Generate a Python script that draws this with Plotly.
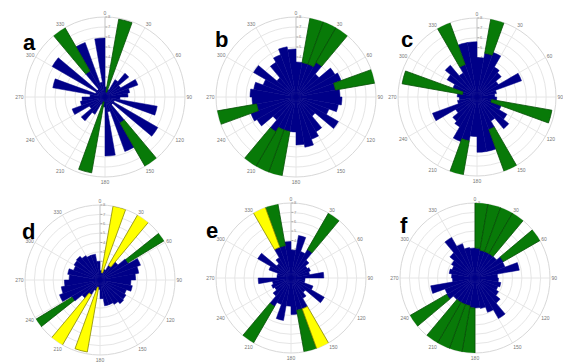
import plotly.graph_objects as go

W, H = 563, 362

# bin centres (10 degree bins, full circle; axial data)
theta_bins = [5, 15, 25, 35, 45, 55, 65, 75, 85, 95, 105, 115, 125, 135, 145, 155, 165, 175,
              185, 195, 205, 215, 225, 235, 245, 255, 265, 275, 285, 295, 305, 315, 325, 335, 345, 355]

a_blue = [1.0, 0.5, 0.8, 2.0, 3.1, 1.8, 3.5, 2.5, 2.3, 1.5, 5.3, 1.0, 6.1, 1.0, 3.0, 5.8, 1.5, 5.9,
          1.0, 0.5, 0.8, 2.0, 3.1, 1.8, 3.5, 2.5, 2.3, 1.5, 5.3, 1.0, 6.1, 1.0, 3.0, 5.8, 1.5, 5.9]
a_green_theta = [15, 145, 195, 325]
a_green = [7.4, 7.3, 7.2, 7.3]

b_blue = [3.5, 3.5, 3.5, 4.0, 3.0, 4.5, 4.8, 4.0, 4.4, 4.6, 4.3, 3.5, 4.9, 2.5, 4.0, 4.5, 5.1, 4.8,
          3.5, 3.5, 3.5, 4.0, 3.0, 4.5, 4.8, 4.0, 4.4, 4.6, 4.3, 3.5, 4.9, 2.5, 4.0, 4.5, 5.1, 4.8]
b_green_theta = [15, 25, 35, 75, 195, 205, 215, 255]
b_green = [6.4, 7.2, 6.3, 5.7, 6.2, 7.2, 6.3, 5.9]

c_blue = [4.0, 4.5, 4.8, 3.5, 3.2, 2.5, 4.8, 2.0, 1.8, 2.0, 1.5, 2.6, 3.5, 4.2, 2.8, 3.5, 5.6, 5.6,
          4.0, 4.5, 4.8, 3.5, 3.2, 2.5, 4.8, 2.0, 1.8, 2.0, 1.5, 2.6, 3.5, 4.2, 2.8, 3.5, 5.6, 5.6]
c_green_theta = [15, 105, 155, 195, 285, 335]
c_green = [6.8, 6.2, 7.4, 6.9, 6.2, 7.4]

d_blue = [1.0, 0.8, 1.2, 1.8, 2.5, 3.5, 4.6, 4.2, 3.8, 3.3, 3.5, 3.0, 3.2, 3.3, 3.0, 2.8, 2.8, 2.0,
          1.0, 0.8, 1.2, 1.8, 2.5, 3.5, 4.6, 4.2, 3.8, 3.3, 3.5, 3.0, 3.2, 3.3, 3.0, 2.8, 2.8, 2.0]
d_yellow_theta = [15, 35, 195, 215]
d_yellow = [7.2, 6.8, 7.0, 6.6]
d_green_theta = [55, 235]
d_green = [5.4, 5.2]

e_blue = [3.0, 4.6, 3.0, 3.5, 2.5, 2.0, 2.2, 2.0, 3.5, 1.5, 1.5, 2.5, 4.1, 2.0, 2.5, 3.5, 3.5, 3.9,
          3.0, 4.6, 3.0, 3.5, 2.5, 2.0, 2.2, 2.0, 3.5, 1.5, 1.5, 2.5, 4.1, 2.0, 2.5, 3.5, 3.5, 3.9]
e_yellow_theta = [155, 335]
e_yellow = [7.3, 7.8]
e_green_theta = [35, 165, 215, 345]
e_green = [5.4, 5.1, 5.1, 5.2]

f_blue = [3.2, 3.0, 3.0, 3.0, 3.0, 3.5, 3.4, 4.8, 2.4, 2.5, 2.8, 2.6, 2.9, 3.5, 5.0, 3.9, 3.3, 3.2,
          3.2, 3.0, 3.0, 3.0, 3.0, 3.5, 3.4, 4.8, 2.4, 2.5, 2.8, 2.6, 2.9, 3.5, 5.0, 3.9, 3.3, 3.2]
f_green_theta = [5, 15, 25, 35, 55, 185, 195, 205, 215, 235]
f_green = [5.4, 6.5, 6.2, 6.0, 6.8, 5.8, 6.7, 6.2, 6.0, 6.8]

angle_ticks = [0, 30, 60, 90, 120, 150, 180, 210, 240, 270, 300, 330]
angle_labels = ["0", "30", "60", "90", "120", "150", "180", "210", "240", "270", "300", "330"]
radial_max = 8

BLUE = "#000088"
GREEN = "#087a08"
YELLOW = "#ffff00"

panels = [
    # letter, centre x, centre y (from top), radius, blue, overlays
    ("a", 105, 97, 80, a_blue, [(a_green_theta, a_green, GREEN, "#064f06", 10)]),
    ("b", 296, 97, 80, b_blue, [(b_green_theta, b_green, GREEN, "#064f06", 10)]),
    ("c", 477, 97, 79, c_blue, [(c_green_theta, c_green, GREEN, "#064f06", 10)]),
    ("d", 100, 280, 75, d_blue, [(d_yellow_theta, d_yellow, YELLOW, "#8a8a00", 10),
                                 (d_green_theta, d_green, GREEN, "#064f06", 7)]),
    ("e", 291, 278, 75, e_blue, [(e_green_theta, e_green, GREEN, "#064f06", 10),
                                 (e_yellow_theta, e_yellow, YELLOW, "#8a8a00", 10)]),
    ("f", 475, 278, 75, f_blue, [(f_green_theta, f_green, GREEN, "#064f06", 10)]),
]

letter_pos = {"a": (30, 42), "b": (221, 39), "c": (407, 39), "d": (28, 231), "e": (212, 230), "f": (404, 226)}

fig = go.Figure()
annotations = []
for i, (letter, cx, cy, r, blue, overlays) in enumerate(panels):
    pname = "polar" if i == 0 else f"polar{i+1}"
    sub = pname
    fig.add_trace(go.Barpolar(r=blue, theta=theta_bins, width=[10] * len(theta_bins),
                              marker=dict(color=BLUE, line=dict(color=BLUE, width=0.5)),
                              subplot=sub, showlegend=False))
    for th, rv, col, lc, wd in overlays:
        fig.add_trace(go.Barpolar(r=rv, theta=th, width=[wd] * len(th),
                                  marker=dict(color=col, line=dict(color=lc, width=0.8)),
                                  subplot=sub, showlegend=False))
    x0 = max(0, (cx - r) / W); x1 = min(1, (cx + r) / W)
    y0 = max(0, 1 - (cy + r) / H); y1 = min(1, 1 - (cy - r) / H)
    fig.update_layout(**{pname: dict(
        domain=dict(x=[x0, x1], y=[y0, y1]),
        bgcolor="white",
        bargap=0,
        angularaxis=dict(direction="clockwise", rotation=90, tickmode="array",
                         tickvals=angle_ticks, ticktext=angle_labels,
                         tickfont=dict(size=5, color="#777777", family="Liberation Sans"),
                         showline=True, linecolor="#d8d8d8", linewidth=1,
                         gridcolor="#e6e6e6", gridwidth=1, ticks="", layer="below traces"),
        radialaxis=dict(range=[0, radial_max], dtick=1, angle=90, tickangle=90,
                        showticklabels=True, tickfont=dict(size=4, color="#888888"),
                        showline=True, linecolor="#bbbbbb", linewidth=0.6,
                        gridcolor="#e6e6e6", gridwidth=1, ticks="outside", ticklen=2,
                        tickcolor="#aaaaaa", layer="below traces"),
    )})
    lx, ly = letter_pos[letter]
    annotations.append(dict(text=f"<b>{letter}</b>", x=lx / W, y=1 - ly / H, xref="paper", yref="paper",
                            showarrow=False, font=dict(size=22, color="black", family="Liberation Sans"),
                            xanchor="center", yanchor="middle"))

fig.update_layout(width=W, height=H, margin=dict(l=0, r=0, t=0, b=0),
                  paper_bgcolor="white", annotations=annotations, showlegend=False)
fig.write_html("out.html", config={"displayModeBar": False},
               post_script="document.body.style.margin='0px';")
